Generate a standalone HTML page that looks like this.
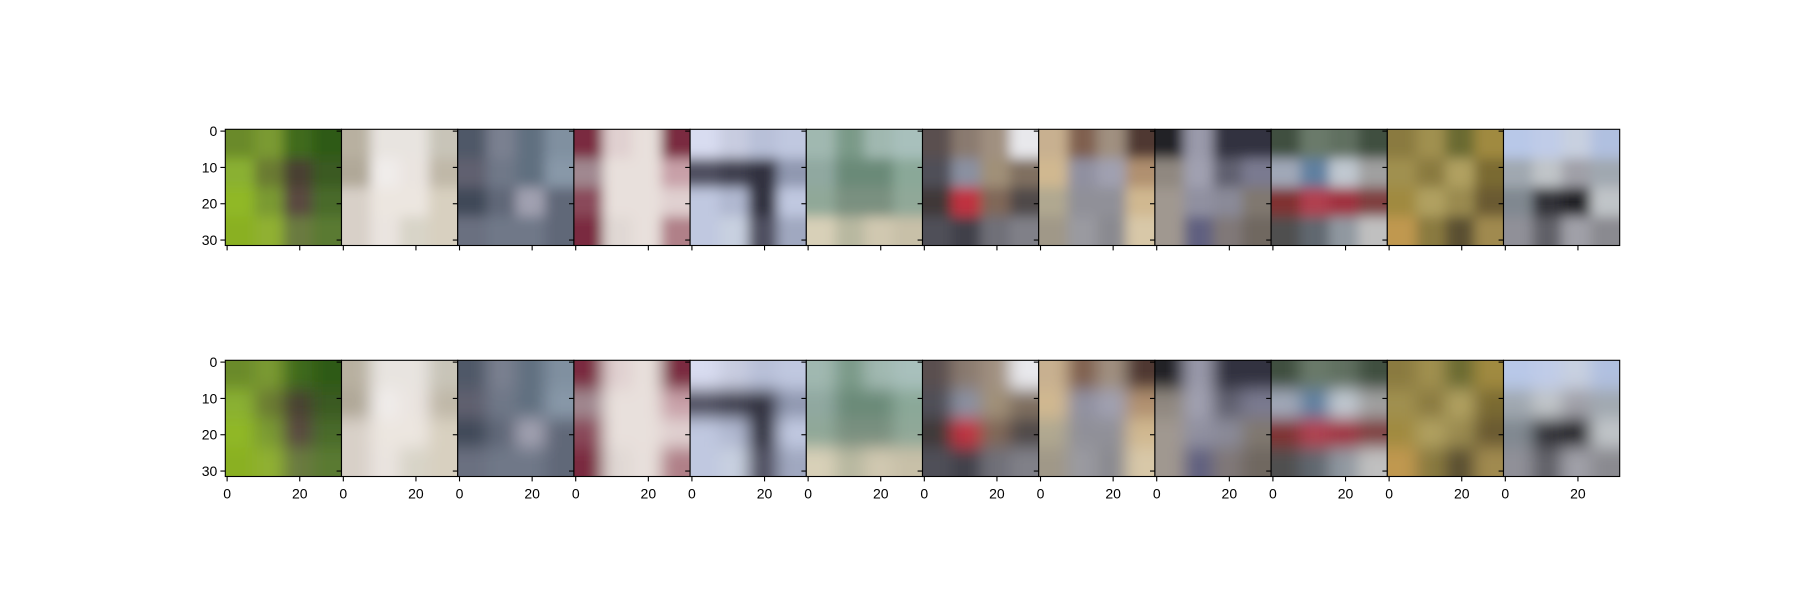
<!DOCTYPE html>
<html><head><meta charset="utf-8"><style>
html,body{margin:0;padding:0;background:#fff}
svg{display:block}
text{font-family:"Liberation Sans","DejaVu Sans",sans-serif;font-size:14px;fill:#000}
</style></head><body>
<svg id="fig" width="1800" height="600" viewBox="0 0 1800 600" xmlns="http://www.w3.org/2000/svg">
<defs>
<filter id="blurTop" x="-20%" y="-20%" width="140%" height="140%"><feGaussianBlur stdDeviation="6"/></filter>
<filter id="blurBot" x="-20%" y="-20%" width="140%" height="140%"><feGaussianBlur stdDeviation="8"/></filter>
</defs>
</svg>
<script>
const images = [
 ["#6a8a2a","#7a9a30","#3f6a1a","#2f5a18","#8ab030","#6a7a30","#4a4030","#3a5a20","#90b828","#7a9a30","#5a4a40","#4a6a2a","#8ab020","#90b030","#6a7a40","#5a7a30"],
 ["#b8b0a0","#e8e4e0","#e8e4e0","#c8c4b8","#b0a898","#f0ecea","#eae4e0","#c0b8a8","#d8d0c8","#ece6e0","#ece6e0","#d8d0c0","#d8d0c8","#eae4e0","#d8d4c8","#d8d0c0"],
 ["#505868","#7a8090","#607080","#8090a0","#606070","#707888","#607080","#8898a8","#404858","#606878","#a0a0b0","#606878","#6a7080","#707888","#707888","#606878"],
 ["#7a2a40","#e0d0d0","#e8e0dc","#7a2a40","#a08890","#e8e0dc","#e8e0dc","#c8a0a8","#8a4a5a","#e8e0dc","#e8e0dc","#e0d0d0","#7a2a40","#e0d8d4","#e8e0dc","#b08088"],
 ["#d8dcf0","#c8cce0","#b8c0d8","#c0c8e0","#505060","#404050","#303040","#9098b0","#c0c8e0","#b0b8d0","#303040","#c0c8e0","#c0c8e0","#c8d0e0","#505060","#a0a8c0"],
 ["#a0b8b0","#7a9a88","#a0b8b0","#a8c0bc","#90a8a0","#6a8a78","#6a8a78","#8aa898","#90a898","#7a9080","#7a9080","#90a898","#d8d0b8","#b8b8a0","#d0c8b0","#c8c0a8"],
 ["#5a5050","#8a7a70","#a09080","#e8e8ec","#505058","#8a90a0","#a09078","#807060","#403838","#c03040","#806858","#504848","#505058","#404048","#707078","#808088"],
 ["#c8b090","#806050","#a09080","#503830","#d0b890","#9090a0","#a0a0b0","#b09070","#b0a890","#909098","#909098","#d0b890","#a09888","#9a9aa0","#8a8a90","#d8c8a8"],
 ["#202028","#9a9aaa","#303040","#303040","#908880","#a0a0b0","#606070","#7a7a90","#a09890","#9090a0","#8a8a98","#807870","#a09890","#606080","#807878","#706860"],
 ["#405040","#6a7a6a","#607060","#405040","#a0a8b8","#6080a0","#c0c8d0","#a0a0a0","#803030","#b04050","#a03040","#804040","#505050","#606870","#9098a0","#c0c0c0"],
 ["#8a7a40","#a09050","#6a6a30","#a08a40","#a09050","#8a7a40","#b0a060","#7a6a30","#a08a40","#b0a060","#9a8a50","#6a5a30","#c09850","#8a7a40","#5a5030","#a08a50"],
 ["#b8c8e8","#c0cce8","#c8d0e0","#b0c0e0","#a0a8b0","#c0c4c8","#a0a0a8","#a0a8b0","#808890","#303038","#202028","#c0c4c8","#909098","#606068","#a0a0a8","#8a8a90"]
];
const yTicks = [0, 10, 20, 30];
const xTicks = [0, 20];

const NS = "http://www.w3.org/2000/svg";
const svg = document.getElementById("fig");
const left = 225.3, pw = 116.2, rowTops = [129.3, 360.3], N = 32;
const unit = pw / N;
function xs(v){ return (v + 0.5) * unit; }
function mk(tag, attrs, parent){ const e = document.createElementNS(NS, tag); for (const k in attrs) e.setAttribute(k, attrs[k]); parent.appendChild(e); return e; }

const defs = svg.querySelector("defs");
rowTops.forEach((top, r) => {
  images.forEach((img, i) => {
    const x0 = left + i * pw;
    const g = mk("g", {}, svg);
    
    
    const cid = "clip" + r + "_" + i;
    const cp = mk("clipPath", {id: cid}, defs);
    mk("rect", {x: x0, y: top, width: pw, height: pw}, cp);
    const cg = mk("g", {"clip-path": "url(#" + cid + ")"}, g);
    const fg = mk("g", {filter: r === 0 ? "url(#blurTop)" : "url(#blurBot)"}, cg);
    const cs = pw / 4, ext = 30;
    for (let a = 0; a < 4; a++) for (let b = 0; b < 4; b++) {
      let cx = x0 + b * cs, cy = top + a * cs, w = cs, h = cs;
      if (b === 0) { cx -= ext; w += ext; }
      if (b === 3) { w += ext; }
      if (a === 0) { cy -= ext; h += ext; }
      if (a === 3) { h += ext; }
      mk("rect", {x: cx, y: cy, width: w + 0.5, height: h + 0.5, fill: img[a * 4 + b]}, fg);
    }
    const frame = mk("rect", {x: x0, y: top, width: pw, height: pw, fill: "none", stroke: "#000", "stroke-width": 1.1}, g);
    
    
    yTicks.forEach(t => {
      const y = top + xs(t);
      const tk = mk("line", {x1: x0 - 4.9, x2: x0, y1: y, y2: y, stroke: "#000", "stroke-width": 1.1}, g);
      
      
      if (i === 0) {
        const lb = mk("text", {x: x0 - 8, y: y + 5, "text-anchor": "end"}, g);
        lb.textContent = t;
        
        
      }
    });
    xTicks.forEach(t => {
      const x = x0 + xs(t);
      const tk = mk("line", {x1: x, x2: x, y1: top + pw, y2: top + pw + 4.9, stroke: "#000", "stroke-width": 1.1}, g);
      
      
      if (r === 1) {
        const lb = mk("text", {x: x, y: top + pw + 22, "text-anchor": "middle"}, g);
        lb.textContent = t;
        
        
      }
    });
  });
});
</script>
</body></html>
